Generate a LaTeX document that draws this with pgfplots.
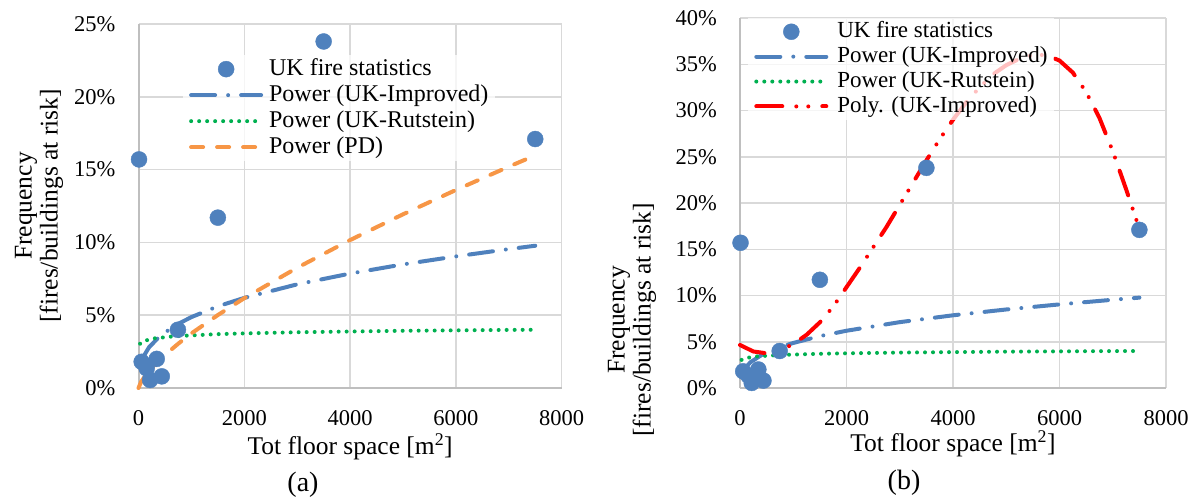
\documentclass[border=0pt]{standalone}
\usepackage{fontspec}
\setmainfont{Liberation Serif}
\usepackage{pgfplots}
\pgfplotsset{compat=1.18}
\definecolor{cblue}{HTML}{4F81BD}
\definecolor{corange}{HTML}{F79646}
\definecolor{cgreen}{HTML}{00B050}
\definecolor{cred}{HTML}{FF0000}
\definecolor{cgrid}{HTML}{D9D9D9}
\definecolor{caxis}{HTML}{BFBFBF}

\pgfplotstableread{
x y
10 15.7
60 1.8
155 1.35
220 0.55
345 2.0
440 0.8
745 4.0
1500 11.7
3500 23.8
7500 17.1
}\pointsdata

\pgfplotstableread{
x y
85 2.08
100 2.20
200 2.80
400 3.55
700 4.31
1000 4.87
1500 5.61
2000 6.19
3000 7.12
4000 7.86
5000 8.49
6000 9.04
7000 9.54
7500 9.77
}\improveddata

\pgfplotstableread{
x y
30 3.04
100 3.23
300 3.41
700 3.56
1500 3.70
2000 3.75
3000 3.83
4000 3.88
5000 3.93
6000 3.96
7000 3.99
7500 4.00
}\rutsteindata

\pgfplotstableread{
x y
0 0
50 0.43
150 0.955
300 1.57
500 2.27
750 3.04
1000 3.75
1500 5.01
2000 6.17
3000 8.26
4000 10.16
5000 11.93
6000 13.60
7000 15.20
7500 15.98
}\pddata

\pgfplotstableread{
x y
0 4.65
250 3.95
500 3.75
750 4.05
1000 4.75
1250 5.75
1500 7.1
1750 8.8
2000 10.9
2250 13.0
2500 15.2
2750 17.4
3000 19.8
3250 22.2
3500 24.6
3750 26.9
4000 29.0
4250 30.9
4500 32.5
4750 33.9
5000 34.9
5250 35.6
5500 36.0
5750 36.0
6000 35.4
6250 34.1
6500 32.0
6750 29.2
7000 25.6
7250 21.5
7500 17.2
}\polydata

\pgfplotsset{
  mystyle/.style={
    scale only axis, clip=false,
    xmin=0, xmax=8000, ymin=0,
    xtick={0,2000,4000,6000,8000},
    axis x line=bottom, axis y line=left,
    axis line style={-, draw=caxis, line width=2pt},
    grid=major, major grid style={draw=cgrid, line width=1.5pt},
    major tick length=0pt,
    tick label style={font=\fontsize{22.5}{24}\selectfont},
    /pgf/number format/assume math mode=true,
    scaled x ticks=false,
    xticklabel style={anchor=base, yshift=-37pt, inner sep=0pt, /pgf/number format/1000 sep={}},
    yticklabel={\pgfmathprintnumber{\tick}\%},
    yticklabel style={anchor=east, xshift=-23pt, inner sep=0pt},
    label style={font=\fontsize{25.5}{26}\selectfont},
    ylabel style={align=center, anchor=center},
    xlabel style={anchor=center, inner sep=0pt},
    xlabel={Tot floor space [m\textsuperscript{2}]},
    ylabel={Frequency\\{}[fires/buildings at risk]},
    legend cell align=left,
    legend image code/.code={\draw[#1] (0pt,0pt) -- (70pt,0pt);},
  },
  scat/.style={only marks, mark=*, mark size=8pt, mark options={draw=cblue, fill=cblue},
    legend image code/.code={\draw[mark repeat=2,mark phase=2,#1,fill opacity=1] plot coordinates {(0pt,0pt) (35pt,0pt) (70pt,0pt)};}},
  impr/.style={draw=cblue, line width=4pt, line cap=round, dash pattern=on 24pt off 13pt on 0pt off 13pt},
  ruts/.style={draw=cgreen, line width=4pt, line cap=round, dash pattern=on 0pt off 8pt},
  pd/.style={draw=corange, line width=4pt, line cap=round, dash pattern=on 12pt off 14pt},
  poly/.style={draw=cred, line width=4pt, line cap=round, dash pattern=on 26pt off 14pt on 0pt off 12pt on 0pt off 14pt},
}

\begin{document}
\begin{tikzpicture}
\useasboundingbox (0pt,0pt) rectangle (1198pt,499pt);
\begin{axis}[mystyle,
  at={(138.5pt,111pt)}, anchor=south west,
  width=423.2pt, height=364pt,
  ymax=25, ytick={0,5,...,25},
  ylabel style={at={(axis description cs:-0.235,0.5)}},
  xlabel style={at={(axis description cs:0.5,-0.162)}},
  legend style={draw=none, fill=white, fill opacity=0.75, text opacity=1,
    at={(axis description cs:0.105,0.915)}, anchor=north west,
    font=\fontsize{24}{26}\selectfont, inner xsep=6pt, inner ysep=2pt, row sep=2pt,
    nodes={inner sep=1pt, text height=17pt, text depth=5pt},
    /tikz/every odd column/.append style={column sep=5pt}},
]
\addplot[scat] table {\pointsdata};
\addlegendentry{UK fire statistics}
\addplot[impr] table {\improveddata};
\addlegendentry{Power (UK-Improved)}
\addplot[ruts] table {\rutsteindata};
\addlegendentry{Power (UK-Rutstein)}
\addplot[pd] table {\pddata};
\addlegendentry{Power (PD)}
\end{axis}

\begin{axis}[mystyle,
  at={(740pt,111pt)}, anchor=south west,
  width=426pt, height=370pt,
  ymax=40, ytick={0,5,...,40},
  ylabel style={at={(axis description cs:-0.2535,0.184)}},
  xlabel style={at={(axis description cs:0.5,-0.15)}},
  legend style={draw=none, fill=white, fill opacity=0.75, text opacity=1,
    at={(axis description cs:0.019,1.0)}, anchor=north west,
    font=\fontsize{23}{25}\selectfont, inner xsep=6pt, inner ysep=2pt, row sep=1.8pt,
    nodes={inner sep=1pt, text height=16.3pt, text depth=4.8pt},
    /tikz/every odd column/.append style={column sep=8pt}},
]
\addplot[scat] table {\pointsdata};
\addlegendentry{UK fire statistics}
\addplot[impr] table {\improveddata};
\addlegendentry{Power (UK-Improved)}
\addplot[ruts] table {\rutsteindata};
\addlegendentry{Power (UK-Rutstein)}
\addplot[poly] table {\polydata};
\addlegendentry{Poly. (UK-Improved)}
\end{axis}

\node[font=\fontsize{28}{30}\selectfont] at (303pt,14pt) {(a)};
\node[font=\fontsize{28}{30}\selectfont] at (904pt,16pt) {(b)};
\end{tikzpicture}
\end{document}
